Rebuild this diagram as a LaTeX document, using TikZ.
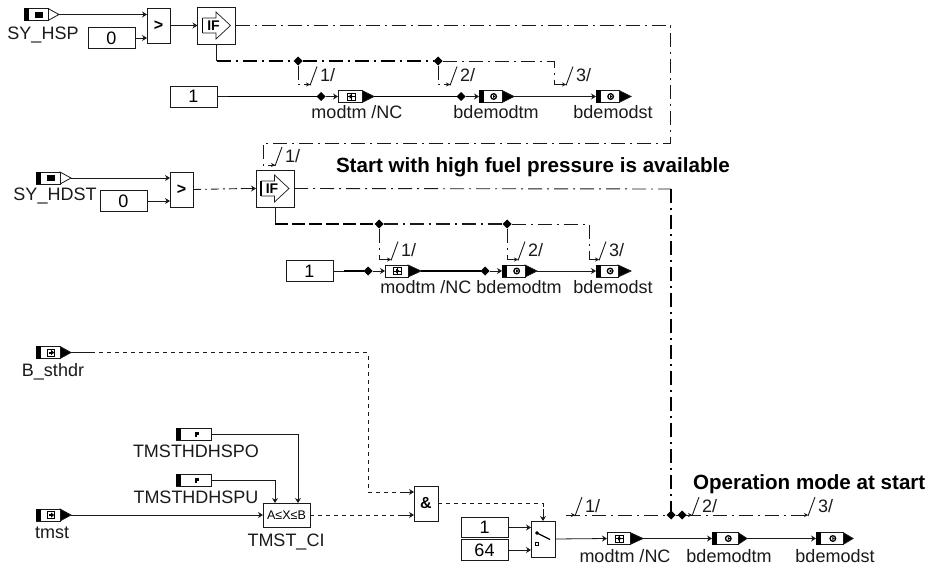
\documentclass[tikz,border=0pt]{standalone}
\usepackage{fontspec}
\setmainfont{Liberation Sans}
\usetikzlibrary{arrows.meta,shapes.geometric}
\newcommand{\LabFont}{\fontsize{18}{20}\selectfont}
\newcommand{\BoldFont}{\fontsize{20.6}{22}\selectfont\bfseries}
\definecolor{ink}{HTML}{1A1A1A}
\tikzset{
  wire/.style={draw=ink,line width=0.8pt},
  heavy/.style={draw=black,line width=1.5pt},
  tipped/.style={-{Stealth[length=5pt,width=6pt]}},
  smalltip/.style={-{Stealth[length=4pt,width=4pt]}},
  dd/.style={draw=ink,line width=0.9pt,dash pattern=on 14pt off 5pt on 2pt off 5pt},
  ddheavy/.style={draw=black,line width=1.6pt,dash pattern=on 14pt off 5pt on 2pt off 5pt},
  dashheavy/.style={draw=black,line width=1.2pt,dash pattern=on 13pt off 4pt},
  dotline/.style={draw=ink,line width=0.9pt,dash pattern=on 4pt off 4pt},
  dotdash/.style={draw=ink,line width=0.9pt,dash pattern=on 8pt off 4pt on 2pt off 4pt},
  blockbox/.style={draw=ink,fill=white,line width=1pt,inner sep=0pt,outer sep=0pt},
  constbox/.style={blockbox,minimum width=47pt,minimum height=21pt,font=\LabFont},
  lab/.style={inner sep=0pt,outer sep=0pt,font=\LabFont,text=ink},
  baselab/.style={lab,anchor=base},
  boldlab/.style={inner sep=0pt,outer sep=0pt,font=\BoldFont,text=black,anchor=base west},
  jn/.style={diamond,fill=black,inner sep=0pt,outer sep=0pt,minimum width=9pt,minimum height=9pt},
  ghost/.style={inner sep=0pt,outer sep=0pt,anchor=west,minimum height=12pt},
}
% #1 name, #2 left x, #3 y, #4 bar width, #5 body width, #6 tip width, #7 tip fill, #8 icon
\newcommand{\SigBlock}[8]{%
  \node[ghost,minimum width=#5pt+#6pt] (#1) at (#2,#3) {};
  \begin{scope}[shift={(#2,#3)}]
    \filldraw[draw=ink,fill=#7,line width=0.8pt] (#5,-6) -- (#5+#6,0) -- (#5,6) -- cycle;
    \filldraw[draw=ink,fill=white,line width=1pt] (0,-6) rectangle (#5,6);
    \fill[black] (0,-6.4) rectangle (#4,6.4);
    \begin{scope}[shift={(#5*0.55+#4*0.4,0)}]#8\end{scope}
  \end{scope}}
\newcommand{\IconSq}{\fill[black] (-4,-3) rectangle (4,3);}
\newcommand{\IconCirc}{\filldraw[draw=black,fill=white,line width=1.3pt] (0,0) circle (2.8); \fill[black] (-0.5,-1.5) -- (2,0) -- (-0.5,1.5) -- cycle;}
\newcommand{\IconArr}{\draw[black,line width=1pt] (-3.5,-3.5) rectangle (3.5,3.5); \fill[black] (-2,-1) rectangle (0,1); \fill[black] (0,-2.5) -- (3,0) -- (0,2.5) -- cycle;}
\newcommand{\IconMod}{\draw[black,line width=0.7pt] (-4,-3.5) rectangle (4,3.5); \draw[black,line width=0.7pt] (-4,0) -- (4,0) (0,-3.5) -- (0,3.5);\fill[black] (-1.5,-2) -- (2,0) -- (-1.5,2) -- cycle;}
\newcommand{\IconP}{\fill[black] (-2,-2.5) rectangle (2,1); \fill[black] (-2,0) rectangle (0,3);}
% tap mark: #1 coordinate name, #2 text
\newcommand{\TapMark}[2]{%
  \draw[wire,line width=0.9pt] ([shift={(0pt,-1pt)}]#1) -- ([shift={(7pt,18pt)}]#1);
  \node[lab,anchor=west] (#1txt) at ([shift={(10pt,9pt)}]#1) {#2};}
% IF block: #1 name, #2 cx, #3 cy
\newcommand{\IfBlock}[3]{%
  \node[blockbox,minimum width=38pt,minimum height=37pt] (#1) at (#2,#3) {};
  \begin{scope}[shift={(#2,#3)}]
    \draw[ink,line width=0.7pt] (-14,-7.5) -- (-0.5,-7.5) -- (-0.5,-13.5) -- (14,0) -- (-0.5,13.5) -- (-0.5,7.5) -- (-14,7.5);
    \draw[black,line width=1.3pt] (-14,-7.5) -- (-14,7.5);
    \node[inner sep=0pt,font=\fontsize{14}{14}\selectfont\bfseries] (#1txt) at (-3,0) {IF};
  \end{scope}}
\begin{document}
\begin{tikzpicture}[x=1pt,y=-1pt]
\useasboundingbox[fill=white] (0,0) rectangle (926,570);

%%% ---------- top group
\SigBlock{hsp}{24}{14.5}{5}{24}{11}{white}{\IconSq}
\node[baselab] (lhsp) at (43,39.5) {SY\_HSP};
\node[constbox] (z1) at (111.5,38) {0};
\node[blockbox,minimum width=23pt,minimum height=35pt,font=\fontsize{16}{16}\selectfont\bfseries] (gt1) at (158.5,25.5) {>};
\IfBlock{if1}{216.5}{25.5}
\node[constbox] (c1) at (193.5,96.5) {1};
\node[jn] (r1) at (321,96.5) {};
\SigBlock{m1}{338}{96.5}{0}{24}{12}{black}{\IconMod}
\node[baselab] (lm1) at (357,118) {modtm /NC};
\node[jn] (r2) at (461,96.5) {};
\SigBlock{b1}{479}{96.5}{5}{23}{12}{black}{\IconCirc}
\node[baselab] (lb1) at (496,118) {bdemodtm};
\SigBlock{s1}{596}{96.5}{5}{23}{12}{black}{\IconCirc}
\node[baselab] (ls1) at (613,118) {bdemodst};
\node[jn] (j1) at (298,61) {};
\node[jn] (j2) at (438,61) {};
\coordinate (e1) at (554,61);
\coordinate (a1) at (310,84.5);
\coordinate (a2) at (450,84.5);
\coordinate (a3) at (566,84.5);
\coordinate (t1) at (670.5,25.5);
\coordinate (t2) at (670.5,143);
\coordinate (t3) at (263,143);
\coordinate (t4) at (275,165);

\draw[wire,tipped] (hsp.east) -- (hsp.east -| gt1.west);
\draw[wire,tipped] (z1.east) -- (z1.east -| gt1.west);
\draw[wire,tipped] (gt1.east) -- (if1.west);
\draw[dd] (if1.east) -- (t1) -- (t2) -- (t3) |- (t4);
\draw[ink,line width=1pt,smalltip] (268,165) -- (t4);
\TapMark{t4}{1/}
\draw[wire] (if1.south) -- (if1.south |- j1);
\draw[ddheavy] (if1.south |- j1) -- (j1) -- (j2);
\draw[dd] (j2) -- (e1) |- (a3);
\draw[dd] (j1) |- (a1);
\draw[dd] (j2) |- (a2);
\foreach \q in {a1,a2,a3}{\draw[ink,line width=1pt,smalltip] ([xshift=-6pt]\q) -- (\q);}
\TapMark{a1}{1/}\TapMark{a2}{2/}\TapMark{a3}{3/}
\draw[wire] (c1.east) -- ([xshift=11pt]c1.east);
\draw[heavy] ([xshift=11pt]c1.east) -- (r1);
\draw[wire,tipped] (r1) -- (m1.west);
\draw[heavy] (m1.east) -- (r2);
\draw[wire,tipped] (r2) -- (b1.west);
\draw[wire,tipped] (b1.east) -- (s1.west);

%%% ---------- middle group
\SigBlock{hdst}{36}{178}{5}{24}{11}{white}{\IconSq}
\node[baselab] (lhdst) at (55,200) {SY\_HDST};
\node[constbox] (z2) at (123.5,201) {0};
\node[blockbox,minimum width=23pt,minimum height=35pt,font=\fontsize{16}{16}\selectfont\bfseries] (gt2) at (181.5,189.5) {>};
\IfBlock{if2}{275}{188.5}
\node[boldlab] (note1) at (336,172) {Start with high fuel pressure is available};
\node[constbox] (c2) at (309.5,271) {1};
\node[jn] (r3) at (368,271) {};
\SigBlock{m2}{385}{271}{0}{23}{13}{black}{\IconMod}
\node[baselab] (lm2) at (426,293) {modtm /NC};
\node[jn] (r4) at (485,271) {};
\SigBlock{b2}{502}{271}{5}{23}{12}{black}{\IconCirc}
\node[baselab] (lb2) at (519,293) {bdemodtm};
\SigBlock{s2}{596}{271}{5}{22}{13}{black}{\IconCirc}
\node[baselab] (ls2) at (613,293) {bdemodst};
\node[jn] (j3) at (379,224) {};
\node[jn] (j4) at (507,224) {};
\coordinate (e2) at (589,224);
\coordinate (a4) at (391,259.5);
\coordinate (a5) at (518,259.5);
\coordinate (a6) at (599,259.5);
\coordinate (t5) at (671,189);
\node[jn] (j5) at (671,515) {};

\draw[wire,tipped] (hdst.east) -- (hdst.east -| gt2.west);
\draw[wire,tipped] (z2.east) -- (z2.east -| gt2.west);
\draw[dotdash] (gt2.east) -- ([xshift=-10pt]if2.west);
\draw[wire,tipped] ([xshift=-14pt]if2.west) -- (if2.west);
\draw[dd] (if2.east) -- (t5);
\draw[ddheavy] (t5) -- (j5);
\draw[wire] (if2.south) -- (if2.south |- j3);
\draw[dashheavy] (if2.south |- j3) -- (j3);
\draw[dd,line width=1.2pt] (j3) -- (j4);
\draw[dd] (j4) -- (e2) |- (a6);
\draw[dd] (j3) |- (a4);
\draw[dd] (j4) |- (a5);
\foreach \q in {a4,a5,a6}{\draw[ink,line width=1pt,smalltip] ([xshift=-6pt]\q) -- (\q);}
\TapMark{a4}{1/}\TapMark{a5}{2/}\TapMark{a6}{3/}
\draw[wire] (c2.east) -- ([xshift=11pt]c2.east);
\draw[heavy] ([xshift=11pt]c2.east) -- (r3);
\draw[wire,tipped] (r3) -- (m2.west);
\draw[heavy] (m2.east) -- (r4);
\draw[wire,tipped] (r4) -- (b2.west);
\draw[wire,tipped] (b2.east) -- (s2.west);

%%% ---------- bottom group
\SigBlock{bst}{36}{352.5}{5}{24}{11}{black}{\IconArr}
\node[baselab] (lbst) at (53,376) {B\_sthdr};
\SigBlock{po}{176}{434}{5}{35}{0}{white}{\IconP}
\node[baselab] (lpo) at (196,457) {TMSTHDHSPO};
\SigBlock{pu}{176}{480}{5}{35}{0}{white}{\IconP}
\node[baselab] (lpu) at (196,503) {TMSTHDHSPU};
\SigBlock{tm}{36}{515}{5}{24}{11}{black}{\IconArr}
\node[baselab] (ltm) at (52,538) {tmst};
\node[blockbox,minimum width=47pt,minimum height=24pt,font=\fontsize{12.5}{12.5}\selectfont] (ci) at (286.5,515) {A≤X≤B};
\node[baselab] (lci) at (286,546) {TMST\_CI};
\node[blockbox,minimum width=24pt,minimum height=35pt,font=\fontsize{16}{16}\selectfont\bfseries] (amp) at (426,503.5) {\&};
\node[blockbox,minimum width=24pt,minimum height=36pt] (sw) at (543,539) {};
\filldraw[black] (537,533) circle (1.6);
\draw[black,line width=1.3pt] (537,533) -- (550,539.5);
\draw[black,line width=0.8pt] (535.5,542.5) rectangle (538.5,545.5);
\node[constbox,minimum height=20.5pt] (k1) at (484.5,527.5) {1};
\node[constbox] (k2) at (484.5,550) {64};
\SigBlock{m3}{607}{538.5}{0}{23}{13}{black}{\IconMod}
\node[baselab] (lm3) at (625,562) {modtm /NC};
\SigBlock{b3}{712}{538.5}{5}{26}{9}{black}{\IconCirc}
\node[baselab] (lb3) at (729,562) {bdemodtm};
\SigBlock{s3}{816}{538.5}{5}{27}{10}{black}{\IconCirc}
\node[baselab] (ls3) at (835,562) {bdemodst};
\node[boldlab] (note2) at (693,489) {Operation mode at start};
\node[jn] (j6) at (682,515) {};
\coordinate (s0) at (566,515);
\coordinate (a7) at (575,515);
\coordinate (a8) at (692,515);
\coordinate (a9) at (808,515);
\coordinate (k3) at (368,352.5);
\coordinate (k4) at (298,434);
\coordinate (k5) at (275,480);
\coordinate (k6) at (543,503.5);

\draw[wire] (bst.east) -- ([xshift=20pt]bst.east);
\draw[dotline] ([xshift=20pt]bst.east) -- (k3) -- (k3 |- 0,492);
\draw[dotline] (k3 |- 0,492) -- (402,492);
\draw[wire,tipped] (402,492) -- (402,492 -| amp.west);
\draw[wire,tipped] (po.east) -| (k4) -- (k4 |- ci.north);
\draw[wire,tipped] (pu.east) -| (k5) -- (k5 |- ci.north);
\draw[wire,tipped] (tm.east) -- (ci.west);
\draw[dotline] (ci.east) -- (402,515);
\draw[wire,tipped] (402,515) -- (402,515 -| amp.west);
\draw[dotline] (amp.east) -- (k6) -- ([yshift=8pt]sw.north);
\draw[wire,tipped] ([yshift=12pt]sw.north) -- (sw.north);
\draw[wire,tipped] (k1.east) -- (k1.east -| sw.west);
\draw[wire,tipped] (k2.east) -- (k2.east -| sw.west);
\draw[wire,tipped] (sw.east) -- (m3.west);
\draw[wire,tipped] (m3.east) -- (b3.west);
\draw[wire,tipped] (b3.east) -- (s3.west);
\draw[dd] (s0) -- (j5);
\draw[wire] (j5) -- (j6);
\draw[dd] (j6) -- (a9);
\foreach \q in {a7,a8,a9}{\draw[ink,line width=1pt,smalltip] ([xshift=-6pt]\q) -- (\q);}
\TapMark{a7}{1/}\TapMark{a8}{2/}\TapMark{a9}{3/}
\end{tikzpicture}
\end{document}
